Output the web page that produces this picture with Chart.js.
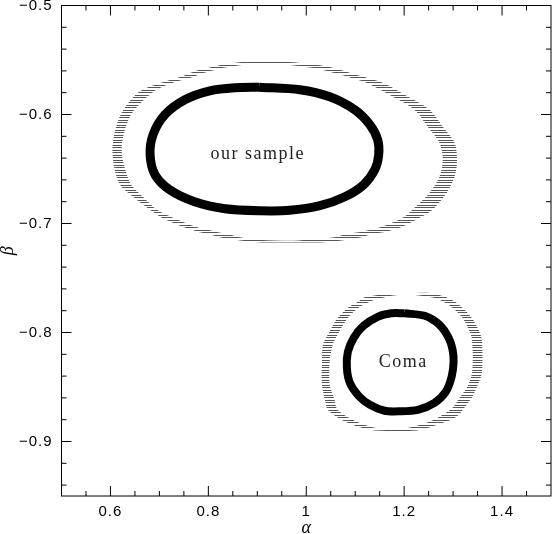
<!DOCTYPE html>
<html>
<head>
<meta charset="utf-8">
<script src="https://cdn.jsdelivr.net/npm/chart.js@4"></script>
<style>
  html, body { margin: 0; padding: 0; background: #fff; }
  canvas { display: block; }
</style>
</head>
<body>
<canvas id="chart" width="553" height="534"></canvas>
<script>
// --- axis ticks (alpha on x, beta on y) ---
const xMajor = [0.6, 0.8, 1.0, 1.2, 1.4];
const xMinor = [0.55, 0.65, 0.7, 0.75, 0.85, 0.9, 0.95, 1.05, 1.1, 1.15, 1.25, 1.3, 1.35, 1.45];
const yMajor = [-0.5, -0.6, -0.7, -0.8, -0.9];
const yMinor = [-0.52, -0.54, -0.56, -0.58, -0.62, -0.64, -0.66, -0.68, -0.72, -0.74, -0.76, -0.78,
                -0.82, -0.84, -0.86, -0.88, -0.92, -0.94];

// --- "our sample" contours [alpha, beta] ---
const sampleBandOuter = [
  [0.917, -0.5510], [0.966, -0.5519], [1.021, -0.5544], [1.052, -0.5569], [1.074, -0.5596],
  [1.109, -0.5645], [1.156, -0.5709], [1.201, -0.5819], [1.252, -0.5957], [1.279, -0.6113],
  [1.303, -0.6260], [1.308, -0.6415], [1.303, -0.6572], [1.287, -0.6718], [1.258, -0.6874],
  [1.232, -0.6948], [1.197, -0.7028], [1.164, -0.7073], [1.136, -0.7097], [1.113, -0.7125],
  [1.083, -0.7150], [1.038, -0.7172], [0.966, -0.7175], [0.901, -0.7172], [0.854, -0.7150],
  [0.823, -0.7125], [0.799, -0.7097], [0.777, -0.7073], [0.746, -0.7028], [0.705, -0.6948],
  [0.681, -0.6874], [0.646, -0.6755], [0.617, -0.6627], [0.604, -0.6324], [0.619, -0.6018],
  [0.656, -0.5801], [0.697, -0.5718], [0.746, -0.5651], [0.762, -0.5620], [0.777, -0.5596],
  [0.803, -0.5569], [0.830, -0.5544], [0.868, -0.5519]
];
const sampleBandInner = [
  [0.917, -0.5533], [0.960, -0.5544], [1.007, -0.5569], [1.038, -0.5596], [1.058, -0.5620],
  [1.083, -0.5651], [1.123, -0.5709], [1.170, -0.5819], [1.221, -0.5957], [1.248, -0.6113],
  [1.272, -0.6260], [1.279, -0.6415], [1.272, -0.6572], [1.252, -0.6718], [1.217, -0.6874],
  [1.197, -0.6948], [1.156, -0.7028], [1.115, -0.7073], [1.083, -0.7097], [1.058, -0.7125],
  [1.003, -0.7150], [0.966, -0.7159], [0.905, -0.7150], [0.864, -0.7125], [0.838, -0.7097],
  [0.813, -0.7073], [0.772, -0.7028], [0.728, -0.6948], [0.695, -0.6874], [0.666, -0.6755],
  [0.640, -0.6627], [0.623, -0.6324], [0.640, -0.6018], [0.685, -0.5801], [0.721, -0.5718],
  [0.772, -0.5651], [0.789, -0.5620], [0.809, -0.5596], [0.834, -0.5569], [0.874, -0.5544]
];
const sampleContour = [
  [0.905, -0.5750], [0.987, -0.5773], [1.048, -0.5838], [1.099, -0.5957], [1.130, -0.6094],
  [1.146, -0.6232], [1.148, -0.6370], [1.140, -0.6507], [1.117, -0.6645], [1.079, -0.6755],
  [1.028, -0.6837], [0.966, -0.6879], [0.905, -0.6883], [0.834, -0.6865], [0.772, -0.6801],
  [0.721, -0.6691], [0.691, -0.6553], [0.681, -0.6370], [0.687, -0.6186], [0.711, -0.6003],
  [0.752, -0.5865], [0.803, -0.5783], [0.854, -0.5755]
];

// --- Coma contours [alpha, beta] ---
const comaBandOuter = [
  [1.211, -0.7639], [1.256, -0.7639], [1.287, -0.7679], [1.303, -0.7716], [1.319, -0.7773],
  [1.338, -0.7865], [1.350, -0.7957], [1.358, -0.8049], [1.360, -0.8177], [1.360, -0.8269],
  [1.358, -0.8388], [1.348, -0.8507], [1.338, -0.8599], [1.323, -0.8691], [1.307, -0.8774],
  [1.279, -0.8829], [1.226, -0.8899], [1.140, -0.8899], [1.115, -0.8877], [1.095, -0.8847],
  [1.072, -0.8801], [1.044, -0.8709], [1.038, -0.8617], [1.032, -0.8480], [1.032, -0.8269],
  [1.034, -0.8113], [1.044, -0.8021], [1.064, -0.7868], [1.085, -0.7773], [1.109, -0.7709],
  [1.115, -0.7684], [1.136, -0.7663], [1.166, -0.7639]
];
const comaBandInner = [
  [1.211, -0.7650], [1.258, -0.7679], [1.279, -0.7716], [1.299, -0.7773], [1.319, -0.7865],
  [1.330, -0.7957], [1.338, -0.8049], [1.340, -0.8177], [1.340, -0.8269], [1.338, -0.8388],
  [1.328, -0.8507], [1.313, -0.8599], [1.299, -0.8691], [1.272, -0.8774], [1.246, -0.8829],
  [1.191, -0.8889], [1.144, -0.8877], [1.119, -0.8847], [1.095, -0.8801], [1.064, -0.8709],
  [1.058, -0.8617], [1.048, -0.8480], [1.048, -0.8269], [1.054, -0.8113], [1.064, -0.8021],
  [1.085, -0.7868], [1.107, -0.7773], [1.134, -0.7709], [1.154, -0.7684], [1.174, -0.7663]
];
const comaContour = [
  [1.201, -0.7824], [1.242, -0.7847], [1.272, -0.7929], [1.291, -0.8049], [1.299, -0.8159],
  [1.301, -0.8269], [1.297, -0.8406], [1.285, -0.8544], [1.262, -0.8645], [1.228, -0.8709],
  [1.191, -0.8723], [1.160, -0.8718], [1.130, -0.8663], [1.107, -0.8581], [1.089, -0.8461],
  [1.083, -0.8324], [1.085, -0.8177], [1.097, -0.8049], [1.117, -0.7939], [1.146, -0.7856],
  [1.174, -0.7824]
];

// --- text labels ---
const noteText = ["our sample", "Coma"];
const noteAlpha = [0.901, 1.198];
const noteBeta = [-0.6409, -0.8315];

// closed loop of {x,y}
const loop = (pts) => pts.concat([pts[0]]).map(([a, b]) => ({ x: a, y: b }));

// horizontal hatching like the original plot
function hatch() {
  const c = document.createElement("canvas");
  c.width = 1;
  c.height = 5;
  const g = c.getContext("2d");
  g.fillStyle = "#555";
  g.fillRect(0, 0, 1, 1);
  g.fillRect(0, 2, 1, 1);
  return g.createPattern(c, "repeat");
}
const stripes = hatch();

function band(pts, color, order) {
  return {
    data: loop(pts), showLine: true, tension: 0.3, borderWidth: 0,
    pointRadius: 0, fill: "shape", backgroundColor: color, order: order
  };
}
function ring(pts, width) {
  return {
    data: loop(pts), showLine: true, tension: 0.3, borderWidth: width,
    borderColor: "#000", pointRadius: 0, fill: false, order: 1
  };
}

const fmt = (v) => String(+v.toFixed(2)).replace("-", "\u2212");

const framePlugin = {
  id: "frame",
  beforeUpdate(chart) { chart.ctx.letterSpacing = "1px"; },
  beforeDraw(chart) { chart.ctx.letterSpacing = "1px"; },
  afterDraw(chart) {
    const { ctx, chartArea: a, scales: { x, y } } = chart;
    ctx.save();
    ctx.letterSpacing = "0px";
    ctx.strokeStyle = "#000";
    ctx.lineWidth = 1;
    ctx.strokeRect(a.left, a.top, a.right - a.left, a.bottom - a.top);

    const seg = (x1, y1, x2, y2) => {
      ctx.beginPath(); ctx.moveTo(x1, y1); ctx.lineTo(x2, y2); ctx.stroke();
    };
    const xTicks = (vals, len) => vals.forEach((v) => {
      const p = x.getPixelForValue(v);
      seg(p, a.bottom, p, a.bottom - len);
      seg(p, a.top, p, a.top + len);
    });
    const yTicks = (vals, len) => vals.forEach((v) => {
      const p = y.getPixelForValue(v);
      seg(a.left, p, a.left + len, p);
      seg(a.right, p, a.right - len, p);
    });
    xTicks(xMajor, 10); xTicks(xMinor, 5);
    yTicks(yMajor, 10); yTicks(yMinor, 5);

    // labels inside the plot
    ctx.fillStyle = "#222";
    ctx.font = '18px "Liberation Serif"';
    ctx.letterSpacing = "1.5px";
    ctx.textAlign = "center";
    ctx.textBaseline = "alphabetic";
    noteText.forEach((t, i) => {
      ctx.fillText(t, x.getPixelForValue(noteAlpha[i]), y.getPixelForValue(noteBeta[i]));
    });

    // axis titles
    ctx.fillStyle = "#000";
    ctx.letterSpacing = "0px";
    ctx.font = 'italic 18px "Liberation Serif"';
    ctx.fillText("\u03b1", (a.left + a.right) / 2, a.bottom + 37);
    ctx.translate(a.left - 53, (a.top + a.bottom) / 2);
    ctx.rotate(-Math.PI / 2);
    ctx.textBaseline = "middle";
    ctx.fillText("\u03b2", 0, 0);
    ctx.restore();
  }
};

const tickFont = { family: '"Liberation Sans", Arial, sans-serif', size: 15 };

new Chart(document.getElementById("chart"), {
  type: "scatter",
  data: {
    datasets: [
      band(sampleBandOuter, stripes, 3),
      band(sampleBandInner, "#fff", 2),
      ring(sampleContour, 9),
      band(comaBandOuter, stripes, 3),
      band(comaBandInner, "#fff", 2),
      ring(comaContour, 8)
    ]
  },
  options: {
    responsive: false,
    animation: false,
    events: [],
    layout: { padding: { top: 5.5, right: 2, left: 0, bottom: 0 } },
    plugins: { legend: { display: false }, tooltip: { enabled: false } },
    scales: {
      x: {
        type: "linear", min: 0.5, max: 1.5,
        grid: { display: false, drawTicks: false },
        border: { display: false },
        ticks: { padding: 7, color: "#000", font: tickFont, autoSkip: false, maxRotation: 0, callback: fmt },
        afterBuildTicks: (s) => { s.ticks = xMajor.map((v) => ({ value: v })); },
        afterFit: (s) => { s.height = 38; s.paddingLeft = 0; s.paddingRight = 0; }
      },
      y: {
        type: "linear", min: -0.95, max: -0.5,
        grid: { display: false, drawTicks: false },
        border: { display: false },
        ticks: { padding: 9, color: "#000", font: tickFont, autoSkip: false, callback: fmt },
        afterBuildTicks: (s) => { s.ticks = yMajor.map((v) => ({ value: v })); },
        afterFit: (s) => { s.width = 61.5; s.paddingTop = 0; s.paddingBottom = 0; }
      }
    }
  },
  plugins: [framePlugin]
});
</script>
</body>
</html>
